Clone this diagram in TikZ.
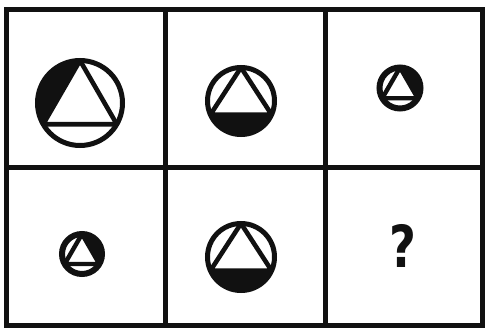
\documentclass[tikz,border=0pt]{standalone}
\usepackage{fontspec}
\usepackage{tikz}
\usetikzlibrary{positioning}
\newfontfamily\qmarkfont{DejaVu Sans}
\definecolor{InkBlack}{HTML}{111111}
\tikzset{
  gridline/.style={line width=5pt, color=InkBlack, line cap=rect},
  ring/.style={line width=5pt, color=InkBlack},
  tri/.style={line width=4.6pt, color=InkBlack, line join=round},
  segfill/.style={fill=InkBlack}
}

\begin{document}
\begin{tikzpicture}[x=1pt, y=1pt]
    \useasboundingbox[fill=white] (0,0) rectangle (487,330);
    % grid
    \draw[gridline] (6,5) rectangle (482,320);
    \draw[gridline] (165,5) -- (165,320);
    \draw[gridline] (325,5) -- (325,320);
    \draw[gridline] (6,163) -- (482,163);

    % top row
    \begin{scope}[shift={(80,227)}]
        \fill[segfill] (90:42.5) arc[start angle=90, end angle=210, radius=42.5] -- cycle;
        \draw[ring] (0,0) circle[radius=42.5];
        \draw[tri] (90:42.5) -- (210:42.5) -- (330:42.5) -- cycle;
    \end{scope}
    \begin{scope}[shift={(241,229)}]
        \fill[segfill] (204:33.5) arc[start angle=204, end angle=336, radius=33.5] -- cycle;
        \draw[ring] (0,0) circle[radius=33.5];
        \draw[tri] (90:33.5) -- (204:33.5) -- (336:33.5) -- cycle;
    \end{scope}
    \begin{scope}[shift={(400,242)}]
        \fill[segfill] (-30:20.5) arc[start angle=-30, end angle=90, radius=20.5] -- cycle;
        \draw[ring, line width=6pt] (0,0) circle[radius=20.5];
        \draw[tri, line width=4.4pt] (90:20.5) -- (210:20.5) -- (330:20.5) -- cycle;
    \end{scope}

    % bottom row
    \begin{scope}[shift={(82,76)}]
        \fill[segfill] (-30:20) arc[start angle=-30, end angle=90, radius=20] -- cycle;
        \draw[ring, line width=6pt] (0,0) circle[radius=20];
        \draw[tri, line width=4.4pt] (90:20) -- (210:20) -- (330:20) -- cycle;
    \end{scope}
    \begin{scope}[shift={(241,73)}]
        \fill[segfill] (204:33.5) arc[start angle=204, end angle=336, radius=33.5] -- cycle;
        \draw[ring] (0,0) circle[radius=33.5];
        \draw[tri] (90:33.5) -- (204:33.5) -- (336:33.5) -- cycle;
    \end{scope}
    \node[inner sep=0pt, xscale=0.8, color=InkBlack, font=\qmarkfont\bfseries\fontsize{58}{62}\selectfont] (qmark) at (403,84) {?};
\end{tikzpicture}
\end{document}
